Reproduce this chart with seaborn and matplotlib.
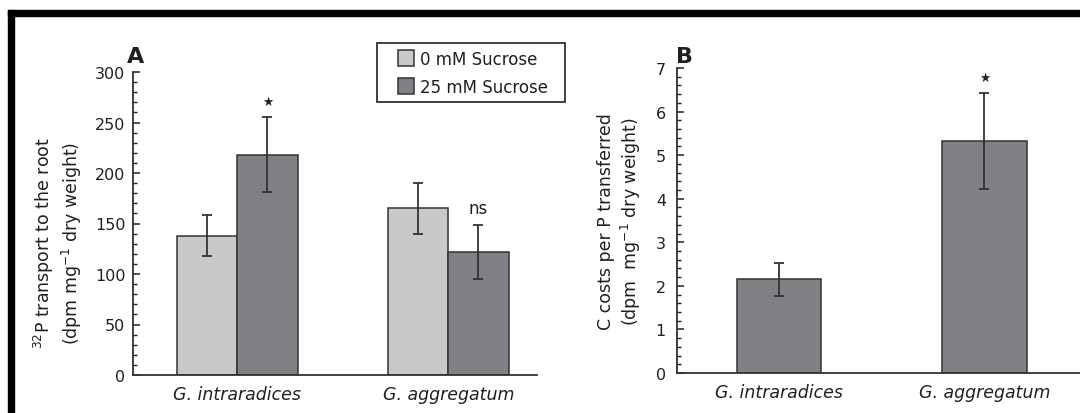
import matplotlib
matplotlib.use("Agg")
import matplotlib.pyplot as plt
from matplotlib.patches import Rectangle
from matplotlib.legend_handler import HandlerPatch
from matplotlib.ticker import MultipleLocator
import seaborn as sns
import pandas as pd

# ---- data -------------------------------------------------------------
species = ["G. intraradices", "G. aggregatum"]
treatments = ["0 mM Sucrose", "25 mM Sucrose"]

p_transport_0mM = [138, 165]
p_transport_0mM_err = [20, 25]
p_transport_25mM = [218, 122]
p_transport_25mM_err = [37, 27]
p_transport_marks = ["★", "ns"]          # significance, 25 mM vs 0 mM

c_cost = [2.15, 5.32]
c_cost_err = [0.38, 1.10]
c_cost_marks = ["", "★"]

# ---- style ------------------------------------------------------------
sns.set_style("ticks")
plt.rcParams["font.family"] = ["DejaVu Sans"]
INK = "#231f20"
LIGHT = "#c8c9cb"
DARK = "#808184"
EDGE = "#333333"
plt.rcParams.update({
    "text.color": INK, "axes.labelcolor": INK,
    "xtick.color": INK, "ytick.color": INK,
    "axes.edgecolor": EDGE, "mathtext.default": "regular",
})

fig = plt.figure(figsize=(10.8, 4.14), dpi=100)
fig.patch.set_facecolor("white")

# black frame along the top and left edge
fig.patches.append(Rectangle((8 / 1080, 1 - 17 / 414), 1, 6 / 414,
                             transform=fig.transFigure, color="black", zorder=10))
fig.patches.append(Rectangle((8 / 1080, -0.01), 6 / 1080, 1 - 11 / 414 + 0.01,
                             transform=fig.transFigure, color="black", zorder=10))

axA = fig.add_axes([133 / 1080, 38 / 414, 404 / 1080, 303 / 414])
axB = fig.add_axes([677 / 1080, 40 / 414, 403 / 1080, 305 / 414])

# ---- panel A ----------------------------------------------------------
dfA = pd.DataFrame({
    "species": species * 2,
    "treatment": [treatments[0]] * 2 + [treatments[1]] * 2,
    "value": p_transport_0mM + p_transport_25mM,
})
errA = [p_transport_0mM_err, p_transport_25mM_err]

sns.barplot(data=dfA, x="species", y="value", hue="treatment",
            order=species, hue_order=treatments,
            palette=[LIGHT, DARK], width=0.57, gap=0, errorbar=None,
            edgecolor=EDGE, linewidth=1.1, saturation=1, legend=False, ax=axA)
barsA = list(axA.containers)

for level, container in enumerate(barsA):
    for j, bar in enumerate(container):
        xc = bar.get_x() + bar.get_width() / 2
        h = bar.get_height()
        axA.errorbar(xc, h, yerr=errA[level][j], color=EDGE, lw=1.3,
                     capsize=3.5, capthick=1.3, zorder=5)
        if level == 1:
            mark = p_transport_marks[j]
            axA.text(xc, h + errA[level][j] + 16, mark, ha="center", va="center",
                     fontsize=9 if mark == "★" else 12, color=INK)

axA.set_xlim(-0.495, 1.42)
axA.set_ylim(0, 300)
axA.yaxis.set_major_locator(MultipleLocator(50))
axA.yaxis.set_minor_locator(MultipleLocator(10))
axA.set_xlabel("")
axA.set_ylabel("$^{32}$P transport to the root\n(dpm mg$^{-1}$ dry weight)",
               fontsize=12.5)
axA.yaxis.set_label_coords(-0.122, 0.437)

# ---- panel B ----------------------------------------------------------
dfB = pd.DataFrame({"species": species, "value": c_cost})
sns.barplot(data=dfB, x="species", y="value", order=species,
            color=DARK, width=0.41, errorbar=None, edgecolor=EDGE,
            linewidth=1.1, saturation=1, ax=axB)
barsB = list(axB.containers[0])
for j, bar in enumerate(barsB):
    xc = bar.get_x() + bar.get_width() / 2
    h = bar.get_height()
    axB.errorbar(xc, h, yerr=c_cost_err[j], color=EDGE, lw=1.3,
                 capsize=3.5, capthick=1.3, zorder=5)
    if c_cost_marks[j]:
        axB.text(xc, h + c_cost_err[j] + 0.36, c_cost_marks[j], ha="center",
                 va="center", fontsize=9, color=INK)

axB.set_xlim(-0.496, 1.465)
axB.set_ylim(0, 7)
axB.yaxis.set_major_locator(MultipleLocator(1))
axB.yaxis.set_minor_locator(MultipleLocator(0.2))
axB.set_xlabel("")
axB.set_ylabel("C costs per P transferred\n(dpm  mg$^{-1}$ dry weight)",
               fontsize=12.5)
axB.yaxis.set_label_coords(-0.084, 0.5)

# ---- shared axis cosmetics ---------------------------------------------
for ax, pad in ((axA, 5.5), (axB, 8)):
    sns.despine(ax=ax)
    for side in ("left", "bottom"):
        ax.spines[side].set_linewidth(1.3)
        ax.spines[side].set_color(EDGE)
    ax.tick_params(axis="y", which="major", direction="in", length=5,
                   width=1.1, labelsize=11.5, pad=pad)
    ax.tick_params(axis="y", which="minor", direction="in", length=3, width=1.0)
    ax.tick_params(axis="x", length=0, labelsize=12.5, pad=7)
    for lab in ax.get_xticklabels():
        lab.set_fontstyle("italic")
    ax.set_facecolor("white")

# panel letters
fig.text(127 / 1080, 1 - 63 / 414, "A", fontsize=16, fontweight="bold",
         va="baseline", ha="left")
fig.text(676 / 1080, 1 - 63 / 414, "B", fontsize=16, fontweight="bold",
         va="baseline", ha="left")


# legend: square swatches with some room on their left
def square_swatch(legend, orig_handle, xdescent, ydescent, width, height, fontsize):
    side = height
    return Rectangle((width - side - xdescent, -ydescent), side, side)


handles = [c[0] for c in barsA]
leg = fig.legend(handles, [t + "  " for t in treatments], loc="upper left",
                 bbox_to_anchor=(377 / 1080, 1 - 44 / 414), borderaxespad=0,
                 fontsize=12, frameon=True, fancybox=False, framealpha=1,
                 edgecolor=INK, borderpad=0.4, handlelength=1.8,
                 handleheight=1.07, handletextpad=0.35, labelspacing=0.6,
                 handler_map={Rectangle: HandlerPatch(patch_func=square_swatch)})
leg.get_frame().set_linewidth(1.2)

fig.savefig("out.png", dpi=100, facecolor="white")
